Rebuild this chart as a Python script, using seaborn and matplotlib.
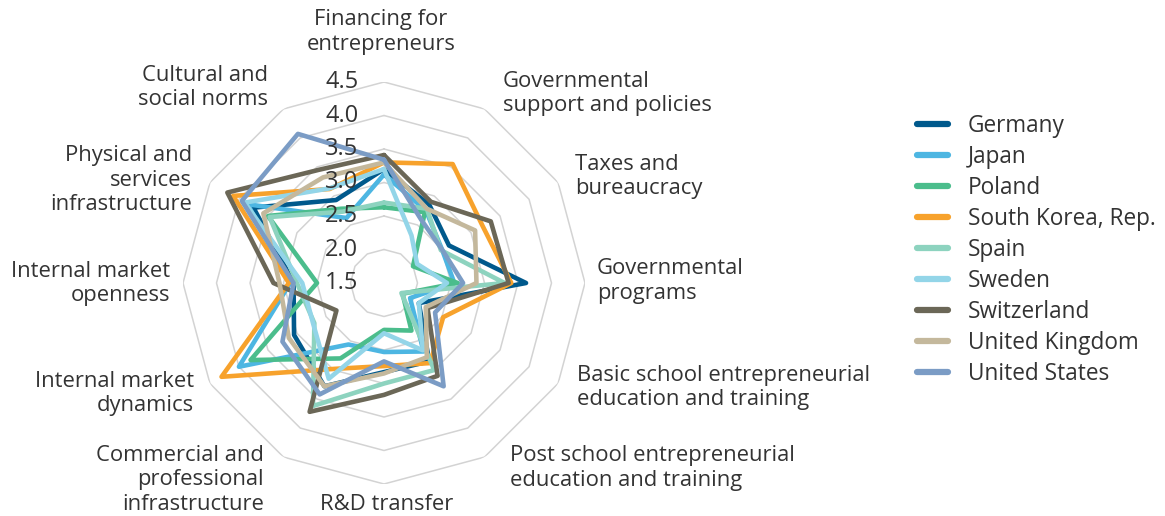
import numpy as np
import pandas as pd
import matplotlib
matplotlib.use("Agg")
import matplotlib.pyplot as plt
import seaborn as sns

categories = [
    "Financing for entrepreneurs",
    "Governmental support and policies",
    "Taxes and bureaucracy",
    "Governmental programs",
    "Basic school entrepreneurial education and training",
    "Post school entrepreneurial education and training",
    "R&D transfer",
    "Commercial and professional infrastructure",
    "Internal market dynamics",
    "Internal market openness",
    "Physical and services infrastructure",
    "Cultural and social norms",
]
countries = ["Germany", "Japan", "Poland", "South Korea, Rep.", "Spain",
             "Sweden", "Switzerland", "United Kingdom", "United States"]

germany = [3.20, 2.85, 2.62, 3.62, 2.10, 2.85, 2.83, 3.28, 3.05, 2.85, 3.75, 2.93]
japan = [3.12, 2.75, 2.50, 2.55, 1.95, 2.68, 2.53, 2.56, 4.00, 2.90, 3.85, 2.62]
poland = [2.63, 2.72, 2.00, 2.60, 1.82, 2.32, 2.20, 2.80, 3.80, 2.50, 3.50, 2.78]
south_korea = [3.30, 3.55, 3.20, 3.40, 2.52, 2.88, 2.74, 2.98, 4.30, 2.92, 4.10, 3.12]
spain = [2.70, 2.78, 2.48, 3.30, 1.80, 3.00, 3.00, 3.62, 2.70, 2.80, 3.47, 2.73]
sweden = [3.20, 2.32, 2.07, 2.44, 2.10, 2.66, 2.25, 3.15, 2.72, 2.72, 3.90, 3.13]
switzerland = [3.41, 2.90, 3.34, 3.36, 2.25, 3.10, 3.17, 3.72, 2.32, 3.15, 4.20, 3.45]
united_kingdom = [3.30, 2.78, 3.07, 2.88, 2.22, 2.78, 2.85, 3.28, 3.14, 3.06, 3.58, 3.32]
united_states = [3.34, 2.60, 2.50, 2.68, 2.38, 3.28, 2.67, 3.42, 3.25, 2.85, 3.95, 4.07]

series = [germany, japan, poland, south_korea, spain, sweden,
          switzerland, united_kingdom, united_states]
colors = ["#00598c", "#4db6e2", "#4bbd8c", "#f7a22c", "#8dd3bf",
          "#93d5e8", "#6b6757", "#c4b89c", "#7b9cc5"]
tick_values = [1.5, 2.0, 2.5, 3.0, 3.5, 4.0, 4.5]

label_texts = [
    "Financing for\nentrepreneurs",
    "Governmental\nsupport and policies",
    "Taxes and\nbureaucracy",
    "Governmental\nprograms",
    "Basic school entrepreneurial\neducation and training",
    "Post school entrepreneurial\neducation and training",
    "R&D transfer",
    "Commercial and\nprofessional\ninfrastructure",
    "Internal market\ndynamics",
    "Internal market\nopenness",
    "Physical and\nservices\ninfrastructure",
    "Cultural and\nsocial norms",
]
label_pos = [(381, 32, "center"), (503, 93.5, "left"), (575, 176.5, "left"),
             (597, 281, "left"), (577, 387.5, "left"), (510, 468, "left"),
             (387, 504, "center"), (264, 480, "right"), (194, 393.5, "right"),
             (170, 283.5, "right"), (192, 180, "right"), (268, 87.5, "right")]

sns.set_theme(style="white")
plt.rcParams["font.family"] = ["Open Sans", "DejaVu Sans"]
TXT = "#333333"

W, H = 1165, 516
fig = plt.figure(figsize=(W / 100, H / 100), dpi=100)
cx, cy, R = 384, 283, 201
ax = fig.add_axes([(cx - R) / W, (H - cy - R) / H, 2 * R / W, 2 * R / H],
                  projection="polar")
ax.set_theta_zero_location("N")
ax.set_theta_direction(-1)

n = len(categories)
theta = np.linspace(0, 2 * np.pi, n + 1)

for lv in tick_values[1:]:
    ax.plot(theta, [lv] * (n + 1), color="#d3d3d3", lw=1.1, zorder=1)

rows = []
for c, vals in zip(countries, series):
    for i in range(n + 1):
        rows.append({"country": c, "theta": theta[i], "value": vals[i % n]})
df = pd.DataFrame(rows)

sns.lineplot(data=df, x="theta", y="value", hue="country", hue_order=countries,
             palette=colors, sort=False, estimator=None, lw=3.3, ax=ax,
             zorder=3)

ax.set_ylim(1.5, 4.5)
ax.set_xticks([])
ax.set_yticks([])
ax.grid(False)
ax.spines["polar"].set_visible(False)
ax.set_xlabel("")
ax.set_ylabel("")

for v in tick_values:
    ax.annotate(f"{v:.1f}", xy=(0, v), xytext=(-18.5, 0), textcoords="offset points",
                ha="right", va="center", fontsize=17, color=TXT, zorder=5)

for txt, (x, y, ha) in zip(label_texts, label_pos):
    fig.text(x / W, 1 - y / H, txt, ha=ha, va="center", fontsize=15.8,
             color=TXT, linespacing=1.2)

sns.move_legend(ax, "upper left", bbox_to_anchor=(917 / W, 1 - 114 / H),
                bbox_transform=fig.transFigure, frameon=False, title=None,
                fontsize=16.3, handlelength=1.35, handletextpad=0.9,
                labelspacing=0.31, borderpad=0, borderaxespad=0)
leg = ax.get_legend()
for t in leg.get_texts():
    t.set_color(TXT)
for l in leg.get_lines():
    l.set_linewidth(4.5)

fig.savefig("out.png", dpi=100)
